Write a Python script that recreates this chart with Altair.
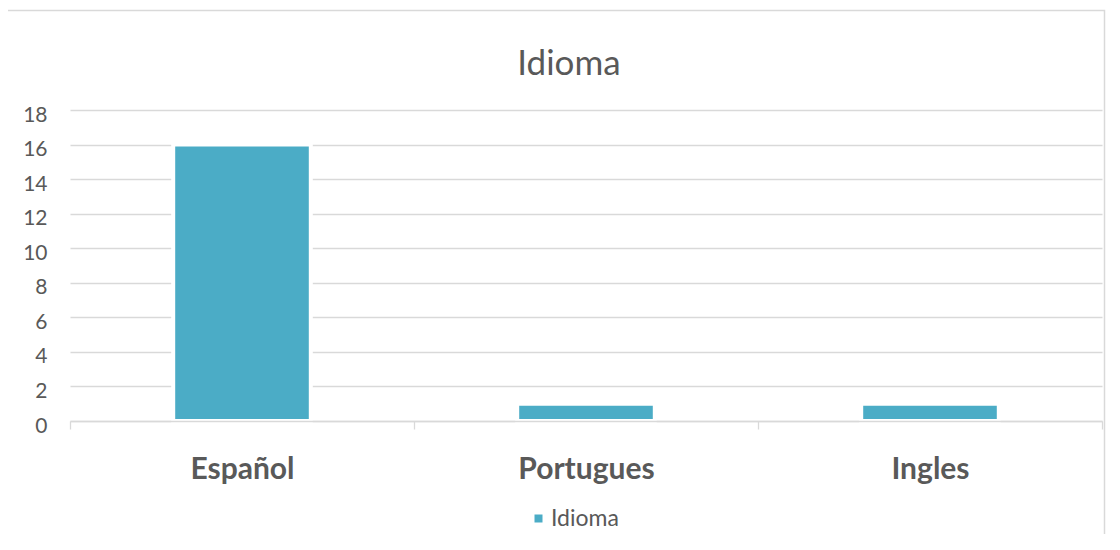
import altair as alt
import pandas as pd

TITLE = "Idioma"
CATEGORIES = ["Español", "Portugues", "Ingles"]
VALUES = [16, 1, 1]
SERIES = "Idioma"
Y_TICKS = [0, 2, 4, 6, 8, 10, 12, 14, 16, 18]

BAR_COLOR = "#4BACC6"
TEXT_COLOR = "#595959"
GRID_COLOR = "#D9D9D9"
FONT = "Lato"

df = pd.DataFrame({"cat": CATEGORIES, "val": VALUES, "serie": [SERIES] * len(CATEGORIES)})
title_df = pd.DataFrame({"t": [TITLE]})
frame_df = pd.DataFrame({"k": [0]})

W, H = 1032, 311

frame = alt.Chart(frame_df).mark_rect(
    fill="white", fillOpacity=0, stroke=GRID_COLOR, strokeWidth=1.5
).encode(
    x=alt.value(-63.5), x2=alt.value(1034.5), y=alt.value(-99.5), y2=alt.value(700)
)

bars = alt.Chart(df).mark_bar(
    stroke="white", strokeWidth=4, width=alt.RelativeBandSize(0.4)
).encode(
    x=alt.X(
        "cat:N",
        sort=CATEGORIES,
        scale=alt.Scale(paddingInner=0, paddingOuter=0),
        axis=alt.Axis(
            title=None,
            labelAngle=0,
            labelFont=FONT,
            labelFontSize=30,
            labelFontWeight="bold",
            labelColor=TEXT_COLOR,
            labelBaseline="alphabetic",
            labelPadding=49,
            tickBand="extent",
            tickSize=8,
            tickColor=GRID_COLOR,
            tickWidth=1.3,
            domainColor=GRID_COLOR,
            domainWidth=1.3,
            grid=False,
            zindex=1,
        ),
    ),
    y=alt.Y(
        "val:Q",
        scale=alt.Scale(domain=[0, 18], nice=False),
        axis=alt.Axis(
            title=None,
            values=Y_TICKS,
            labelFont=FONT,
            labelFontSize=21,
            labelColor=TEXT_COLOR,
            labelPadding=23,
            labelBaseline="middle",
            labelOffset=5,
            ticks=False,
            domain=False,
            grid=True,
            gridColor=GRID_COLOR,
            gridWidth=1.3,
        ),
    ),
    color=alt.Color(
        "serie:N",
        scale=alt.Scale(range=[BAR_COLOR]),
        legend=alt.Legend(
            title=None,
            orient="none",
            legendX=457,
            legendY=397,
            symbolType="square",
            symbolSize=64,
            symbolStrokeWidth=0,
            labelFont=FONT,
            labelFontSize=23,
            labelColor=TEXT_COLOR,
            labelOffset=1,
        ),
    ),
)

title = alt.Chart(title_df).mark_text(
    font=FONT, fontSize=35, color=TEXT_COLOR, baseline="alphabetic", align="center"
).encode(text="t:N", x=alt.value(499), y=alt.value(-35))

chart = alt.layer(frame, bars, title).properties(
    width=W,
    height=H,
    autosize=alt.AutoSizeParams(type="none"),
    padding={"left": 62, "top": 102, "right": 10, "bottom": 113},
).configure_view(stroke=None)

chart.save("out.html", embed_options={"renderer": "svg", "actions": False})
